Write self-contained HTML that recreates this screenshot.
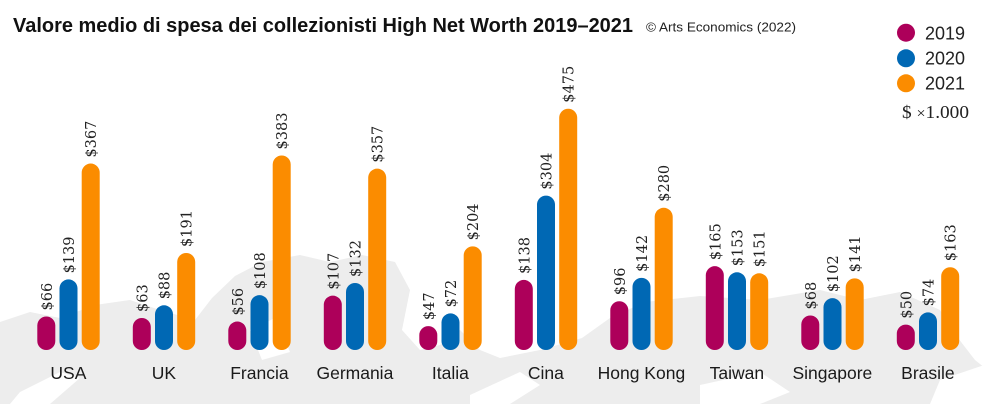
<!DOCTYPE html>
<html><head><meta charset="utf-8"><style>
html,body{margin:0;padding:0;background:#fff;}
svg{display:block;}
</style></head><body>
<svg width="999" height="404" viewBox="0 0 999 404" xmlns="http://www.w3.org/2000/svg">
<rect width="999" height="404" fill="#fff"/>
<g fill="#ededed">
<polygon points="0,322 30,312 60,318 95,305 130,300 160,310 195,320 212,298 235,276 262,262 300,255 330,262 362,255 395,262 410,290 402,330 420,350 440,345 460,330 480,350 500,358 540,350 582,338 610,318 645,302 700,296 760,300 820,290 860,300 900,292 940,310 958,338 975,360 990,372 999,380 999,404 0,404"/>
</g>
<g fill="#fff">
<polygon points="20,392 60,372 80,378 50,404 10,404"/>
<polygon points="250,330 275,318 290,352 262,360"/>
<polygon points="470,395 520,372 540,385 510,404 470,404"/>
<polygon points="700,385 760,372 790,392 760,404 700,404"/>
<polygon points="940,380 999,360 999,404 930,404"/>
</g>
<text x="13" y="32" font-family="Liberation Sans, sans-serif" font-weight="bold" font-size="20.5" fill="#111" textLength="620" lengthAdjust="spacingAndGlyphs">Valore medio di spesa dei collezionisti High Net Worth 2019–2021</text>
<text x="646" y="31.5" font-family="Liberation Sans, sans-serif" font-size="13" fill="#222" textLength="150" lengthAdjust="spacingAndGlyphs">© Arts Economics (2022)</text>
<circle cx="906" cy="32.7" r="9" fill="#ad005a"/>
<circle cx="906" cy="58.3" r="9" fill="#0068b4"/>
<circle cx="906" cy="83.3" r="9" fill="#fb8c00"/>
<g font-family="Liberation Sans, sans-serif" font-size="18" fill="#222">
<text x="925" y="39.3">2019</text>
<text x="925" y="64.3">2020</text>
<text x="925" y="89.3">2021</text>
</g>
<text x="902" y="118" font-family="Liberation Serif, serif" font-size="18" fill="#222" textLength="67" lengthAdjust="spacingAndGlyphs">$ <tspan font-size="15">×</tspan>1.000</text>

<g fill="#ad005a">
<rect x="37.3" y="316.47" width="18" height="33.53" rx="9"/>
<rect x="132.8" y="318.0" width="18" height="32.0" rx="9"/>
<rect x="228.3" y="321.55" width="18" height="28.45" rx="9"/>
<rect x="323.8" y="295.64" width="18" height="54.36" rx="9"/>
<rect x="419.3" y="326.12" width="18" height="23.88" rx="9"/>
<rect x="514.8" y="279.9" width="18" height="70.1" rx="9"/>
<rect x="610.3" y="301.23" width="18" height="48.77" rx="9"/>
<rect x="705.8" y="266.18" width="18" height="83.82" rx="9"/>
<rect x="801.3" y="315.46" width="18" height="34.54" rx="9"/>
<rect x="896.8" y="324.6" width="18" height="25.4" rx="9"/>
</g>
<g fill="#0068b4">
<rect x="59.5" y="279.39" width="18" height="70.61" rx="9"/>
<rect x="155.0" y="305.3" width="18" height="44.7" rx="9"/>
<rect x="250.5" y="295.14" width="18" height="54.86" rx="9"/>
<rect x="346.0" y="282.94" width="18" height="67.06" rx="9"/>
<rect x="441.5" y="313.42" width="18" height="36.58" rx="9"/>
<rect x="537.0" y="195.57" width="18" height="154.43" rx="9"/>
<rect x="632.5" y="277.86" width="18" height="72.14" rx="9"/>
<rect x="728.0" y="272.28" width="18" height="77.72" rx="9"/>
<rect x="823.5" y="298.18" width="18" height="51.82" rx="9"/>
<rect x="919.0" y="312.41" width="18" height="37.59" rx="9"/>
</g>
<g fill="#fb8c00">
<rect x="81.7" y="163.56" width="18" height="186.44" rx="9"/>
<rect x="177.2" y="252.97" width="18" height="97.03" rx="9"/>
<rect x="272.7" y="155.44" width="18" height="194.56" rx="9"/>
<rect x="368.2" y="168.64" width="18" height="181.36" rx="9"/>
<rect x="463.7" y="246.37" width="18" height="103.63" rx="9"/>
<rect x="559.2" y="108.7" width="18" height="241.3" rx="9"/>
<rect x="654.7" y="207.76" width="18" height="142.24" rx="9"/>
<rect x="750.2" y="273.29" width="18" height="76.71" rx="9"/>
<rect x="845.7" y="278.37" width="18" height="71.63" rx="9"/>
<rect x="941.2" y="267.2" width="18" height="82.8" rx="9"/>
</g>

<g font-family="DejaVu Serif, serif" font-size="14.5" fill="#222">
<text x="0" y="5.5" transform="translate(46.3,310.47) rotate(-90)">$66</text>
<text x="0" y="5.5" transform="translate(68.5,273.39) rotate(-90)">$139</text>
<text x="0" y="5.5" transform="translate(90.7,157.56) rotate(-90)">$367</text>
<text x="0" y="5.5" transform="translate(141.8,312.0) rotate(-90)">$63</text>
<text x="0" y="5.5" transform="translate(164.0,299.3) rotate(-90)">$88</text>
<text x="0" y="5.5" transform="translate(186.2,246.97) rotate(-90)">$191</text>
<text x="0" y="5.5" transform="translate(237.3,315.55) rotate(-90)">$56</text>
<text x="0" y="5.5" transform="translate(259.5,289.14) rotate(-90)">$108</text>
<text x="0" y="5.5" transform="translate(281.7,149.44) rotate(-90)">$383</text>
<text x="0" y="5.5" transform="translate(332.8,289.64) rotate(-90)">$107</text>
<text x="0" y="5.5" transform="translate(355.0,276.94) rotate(-90)">$132</text>
<text x="0" y="5.5" transform="translate(377.2,162.64) rotate(-90)">$357</text>
<text x="0" y="5.5" transform="translate(428.3,320.12) rotate(-90)">$47</text>
<text x="0" y="5.5" transform="translate(450.5,307.42) rotate(-90)">$72</text>
<text x="0" y="5.5" transform="translate(472.7,240.37) rotate(-90)">$204</text>
<text x="0" y="5.5" transform="translate(523.8,273.9) rotate(-90)">$138</text>
<text x="0" y="5.5" transform="translate(546.0,189.57) rotate(-90)">$304</text>
<text x="0" y="5.5" transform="translate(568.2,102.7) rotate(-90)">$475</text>
<text x="0" y="5.5" transform="translate(619.3,295.23) rotate(-90)">$96</text>
<text x="0" y="5.5" transform="translate(641.5,271.86) rotate(-90)">$142</text>
<text x="0" y="5.5" transform="translate(663.7,201.76) rotate(-90)">$280</text>
<text x="0" y="5.5" transform="translate(714.8,260.18) rotate(-90)">$165</text>
<text x="0" y="5.5" transform="translate(737.0,266.28) rotate(-90)">$153</text>
<text x="0" y="5.5" transform="translate(759.2,267.29) rotate(-90)">$151</text>
<text x="0" y="5.5" transform="translate(810.3,309.46) rotate(-90)">$68</text>
<text x="0" y="5.5" transform="translate(832.5,292.18) rotate(-90)">$102</text>
<text x="0" y="5.5" transform="translate(854.7,272.37) rotate(-90)">$141</text>
<text x="0" y="5.5" transform="translate(905.8,318.6) rotate(-90)">$50</text>
<text x="0" y="5.5" transform="translate(928.0,306.41) rotate(-90)">$74</text>
<text x="0" y="5.5" transform="translate(950.2,261.2) rotate(-90)">$163</text>
</g>

<g font-family="Liberation Sans, sans-serif" font-size="17.5" fill="#1a1a1a" text-anchor="middle">
<text x="68.4" y="379">USA</text>
<text x="163.9" y="379">UK</text>
<text x="259.4" y="379">Francia</text>
<text x="354.9" y="379">Germania</text>
<text x="450.4" y="379">Italia</text>
<text x="545.9" y="379">Cina</text>
<text x="641.4" y="379">Hong Kong</text>
<text x="736.9" y="379">Taiwan</text>
<text x="832.4" y="379">Singapore</text>
<text x="927.9" y="379">Brasile</text>
</g>
</svg>
</body></html>
